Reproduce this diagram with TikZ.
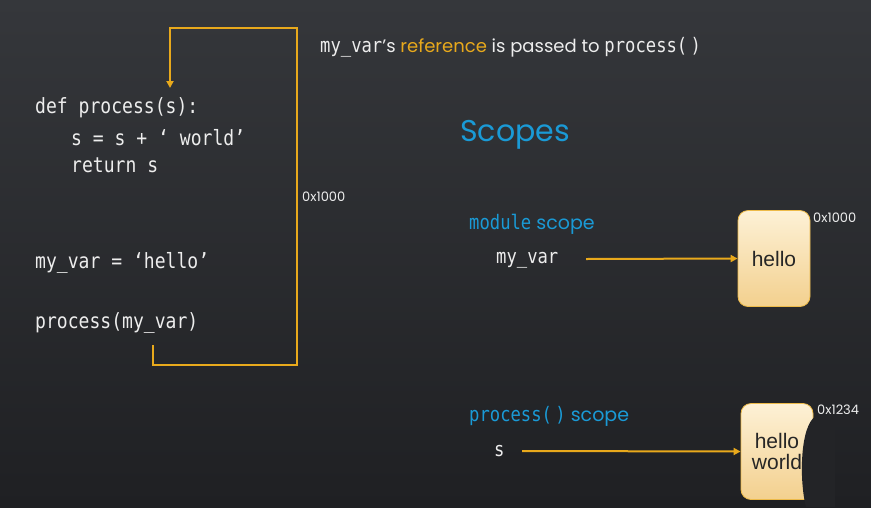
\documentclass[tikz,border=0pt]{standalone}
\usepackage{fontspec}
\setmainfont{Poppins}
\newfontfamily\codefont[FakeStretch=0.86]{DejaVu Sans Mono}
\newfontfamily\boxfont{Liberation Sans}
\usetikzlibrary{arrows.meta}

\definecolor{bgtop}{HTML}{35373B}
\definecolor{bgbot}{HTML}{1F2023}
\definecolor{gold}{HTML}{E8A91C}
\definecolor{scopeblue}{HTML}{1A9AD6}
\definecolor{codewhite}{HTML}{EDEDED}
\definecolor{boxtop}{HTML}{FDF1D6}
\definecolor{boxbot}{HTML}{F3D08E}

\tikzset{
  code/.style={anchor=base west, inner sep=0pt, text=codewhite,
    font=\codefont\fontsize{21}{25}\selectfont},
  label/.style={anchor=base west, inner sep=0pt, text=codewhite,
    font=\fontsize{18}{22}\selectfont},
  addr/.style={anchor=west, inner sep=0pt, text=codewhite,
    font=\fontsize{13}{15}\selectfont},
  scopehead/.style={anchor=base west, inner sep=0pt, text=scopeblue,
    font=\fontsize{19}{23}\selectfont},
  flow/.style={draw=gold, line width=2pt},
  ref/.style={draw=gold, line width=2pt, -{Triangle[length=7pt,width=7pt]}},
  membox/.style={draw=gold!80!white, line width=0.8pt, rounded corners=10pt,
    top color=boxtop, bottom color=boxbot, text=black!85,
    font=\boxfont\fontsize{21}{24}\selectfont, align=center,
    minimum width=72pt, minimum height=96pt, inner sep=0pt}
}

\begin{document}
\begin{tikzpicture}[x=1pt,y=-1pt]
  % backdrop
  \fill[top color=bgtop, bottom color=bgbot] (0,0) rectangle (871,507);
  \useasboundingbox (0,0) rectangle (871,507);

  % source code
  \node[code] (def)  at (35,113) {def process(s):};
  \node[code] (body) at (71,145) {s = s + ‘ world’};
  \node[code] (ret)  at (71,172) {return s};
  \node[code] (assign) at (35,268) {my\_var = ‘hello’};
  \node[code] (call) at (35,328) {process(my\_var)};

  % the reference travels from the call up to the parameter
  \coordinate (callpt) at (153,345);
  \coordinate (cornerA) at (297,365);
  \coordinate (cornerB) at (297,28);
  \coordinate (parampt) at (170,88);
  \draw[flow, -{Triangle[length=7pt,width=7pt]}] (callpt) |- (cornerA) -- (cornerB) -| (parampt);
  \node[addr] (addrA) at (302,197) {0x1000};

  % caption
  \node[label] (caption) at (320,52)
    {{\codefont\fontsize{20}{23}\selectfont my\_var}’s {\color{gold}reference} is passed to {\codefont\fontsize{20}{23}\selectfont process(\,)}};

  % scopes
  \node[anchor=west, inner sep=0pt, text=scopeblue, font=\fontsize{30}{34}\selectfont] (title) at (460,135) {Scopes};

  \node[scopehead] (modscope) at (469,229)
    {{\codefont\fontsize{20}{23}\selectfont module} scope};
  \node[code, font=\codefont\fontsize{20}{23}\selectfont] (myvar) at (496,263) {my\_var};
  \node[membox] (hello) at (774,258.5) {hello};
  \node[addr] (addrB) at (813,218) {0x1000};
  \coordinate (myvarout) at (586,259);
  \draw[ref] (myvarout) -- (hello.west);

  \node[scopehead] (procscope) at (469,421)
    {{\codefont\fontsize{20}{23}\selectfont process(\,)} scope};
  \node[code, font=\codefont\fontsize{20}{23}\selectfont] (svar) at (494,456) {s};
  \node[membox] (helloworld) at (777,451.5) {hello\\[-3pt]world};
  \node[addr] (addrC) at (817,410) {0x1234};
  \coordinate (svarout) at (522,451);
  \draw[ref] (svarout) -- (helloworld.west);

  % dark shape partly hiding the lower box
  \fill[bgbot!82!bgtop] (816,416) .. controls (800,425) and (799,480) .. (806,507)
    -- (835,507) -- (835,416) -- cycle;
\end{tikzpicture}
\end{document}
